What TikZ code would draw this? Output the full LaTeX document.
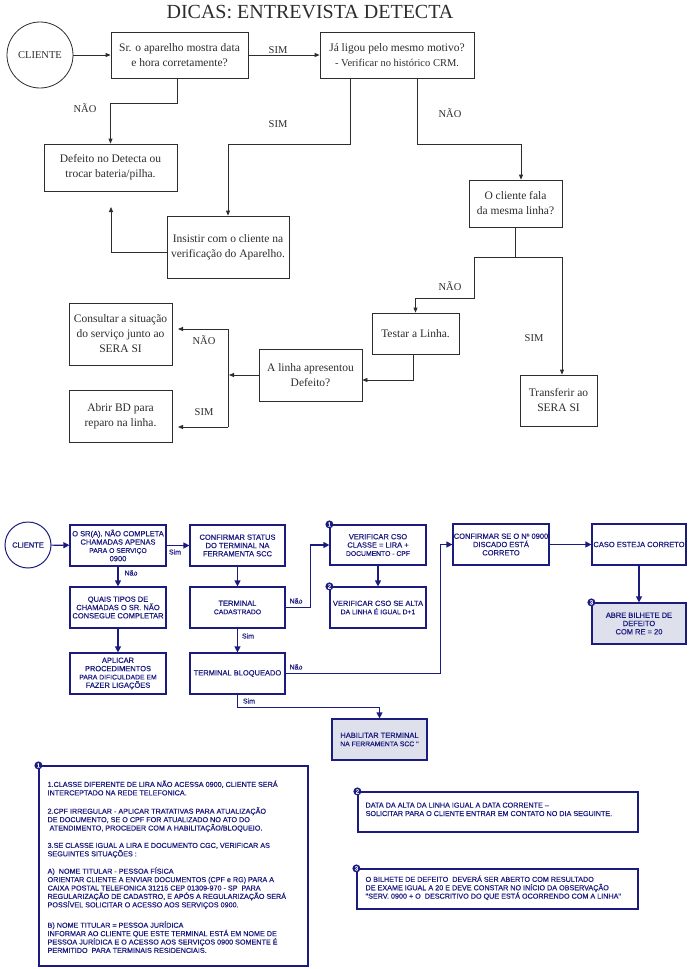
\documentclass[tikz,border=0pt]{standalone}
\usepackage{fontspec}
\setmainfont{Liberation Serif}
\newfontfamily\arialf[FakeBold=0.4]{Liberation Sans}
\usetikzlibrary{arrows.meta,calc}
\definecolor{navy}{RGB}{28,28,128}
\definecolor{shadefill}{RGB}{222,224,236}
\definecolor{ink}{RGB}{45,45,45}
\begin{document}
\begin{tikzpicture}[x=1pt,y=-1pt,
  tbox/.style={draw=ink,line width=0.8pt,fill=white,align=center,text=ink,font=\fontsize{11.5}{15}\selectfont,inner sep=0pt},
  tarr/.style={draw=ink,line width=0.8pt,-{Triangle[length=5pt,width=4pt]}},
  tline/.style={draw=ink,line width=0.8pt},
  tlab/.style={font=\fontsize{10.5}{12}\selectfont,text=ink,inner sep=0pt},
  bbox/.style={draw=navy,line width=1.2pt,fill=white,align=center,text=navy,font=\arialf\fontsize{7.5}{8.3}\selectfont,inner sep=0pt,minimum width=95pt,minimum height=41pt},
  sbox/.style={bbox,fill=shadefill},
  barr/.style={draw=navy,line width=1.2pt,-{Triangle[length=6pt,width=6pt]}},
  blab/.style={font=\arialf\fontsize{7}{7}\selectfont,text=navy,inner sep=0pt},
  badge/.style={circle,fill=navy,text=white,inner sep=0pt,minimum size=8pt,font=\arialf\fontsize{6}{6}\selectfont},
  note/.style={draw=navy,line width=1.2pt,inner sep=0pt},
  notetext/.style={align=left,text=navy,font=\arialf\fontsize{7.2}{8.4}\selectfont,inner sep=0pt,anchor=north west}
]
\useasboundingbox (0,0) rectangle (691,969);
\fill[white] (0,0) rectangle (691,969);

% ---------------- top section ----------------
\node[font=\fontsize{20}{24}\selectfont,text=ink,anchor=base,inner sep=0pt] (title) at (310,18) {DICAS: ENTREVISTA DETECTA};
\node[draw=ink,line width=0.8pt,circle,minimum size=66pt,font=\fontsize{10.5}{12}\selectfont,text=ink,inner sep=0pt] (c1) at (40,55) {CLIENTE};

\node[tbox,minimum width=137pt,minimum height=46pt] (b1) at (179.5,55) {Sr. o aparelho mostra data\\e hora corretamente?};
\node[tbox,minimum width=154pt,minimum height=46pt] (b2) at (397,55) {Já ligou pelo mesmo motivo?\\{\fontsize{10.5}{15}\selectfont - Verificar no histórico CRM.}};
\node[tbox,minimum width=133pt,minimum height=47pt] (b3) at (110.5,167.5) {Defeito no Detecta ou\\trocar bateria/pilha.};
\node[tbox,minimum width=122pt,minimum height=62pt] (b4) at (228,247) {Insistir com o cliente na\\verificação do Aparelho.};
\node[tbox,minimum width=93pt,minimum height=47pt] (b5) at (515.5,203.5) {O cliente fala\\da mesma linha?};
\node[tbox,minimum width=87pt,minimum height=41pt] (b6) at (415.5,333.5) {Testar a Linha.};
\node[tbox,minimum width=77pt,minimum height=51pt] (b7) at (558.5,400.5) {Transferir ao\\SERA SI};
\node[tbox,minimum width=103pt,minimum height=52pt] (b8) at (310.5,375) {A linha apresentou\\Defeito?};
\node[tbox,minimum width=103pt,minimum height=62pt] (b9) at (120.5,334) {Consultar a situação\\do serviço junto ao\\SERA SI};
\node[tbox,minimum width=103pt,minimum height=52pt] (b10) at (120.5,416) {Abrir BD para\\reparo na linha.};

\draw[tarr] (c1) -- (b1);
\draw[tarr] (b1) -- (b2);
\node[tlab] (l0) at (278,50) {SIM};

\draw[tarr] ($(b1.south)+(-2.5,0)$) -- ++(0,25) -| (b3.north);
\node[tlab] (l1) at (85,108) {NÃO};

\draw[tarr] ($(b2.south west)+(31,0)$) -- ++(0,66) -| (b4.north);
\node[tlab] (l2) at (278,124) {SIM};

\draw[tarr] ($(b2.south west)+(98,0)$) -- ++(0,66) -| ($(b5.north)+(5.5,0)$);
\node[tlab] (l3) at (450,113) {NÃO};

\coordinate (sp) at ($(b5.south)+(0,30)$);
\coordinate (spl) at (474,257);
\coordinate (spr) at (562,257);
\draw[tline] (b5.south) -- (sp);
\draw[tline] (spl) -- (spr);
\draw[tarr] (spl) -- ++(0,41) -| (b6.north);
\draw[tarr] (spr) -- ($(b7.north)+(3.5,0)$);
\node[tlab] (l4) at (450,286) {NÃO};
\node[tlab] (l5) at (534,338) {SIM};

\draw[tarr] ($(b6.south)+(-2.5,0)$) |- ($(b8.east)+(0,5)$);
\coordinate (jn) at (229,375);
\draw[tarr] (b8.west) -- (jn);
\coordinate (jt) at (228,329);
\coordinate (jb) at (228,427);
\coordinate (t9) at (178,329);
\coordinate (t10) at (178,427);
\draw[tline] (jt) -- (jb);
\draw[tarr] (jt) -- (t9);
\draw[tarr] (jb) -- (t10);
\node[tlab] (l6) at (204,340) {NÃO};
\node[tlab] (l7) at (204,412) {SIM};

\coordinate (up3) at (111,207);
\draw[tarr] ($(b4.west)+(0,5)$) -| (up3);

% ---------------- bottom section ----------------
\node[draw=navy,line width=1pt,circle,minimum size=46pt,inner sep=0pt,text=navy,font=\arialf\fontsize{7.5}{8}\selectfont] (c2) at (28,545) {CLIENTE};

\node[bbox,minimum width=96pt] (A) at (118,545.5) {O SR(A).  NÃO COMPLETA\\CHAMADAS APENAS\\{\fontsize{6.8}{8.3}\selectfont PARA O SERVIÇO}\\0900};
\node[bbox] (B) at (237.5,545.5) {CONFIRMAR STATUS\\DO TERMINAL NA\\FERRAMENTA SCC};
\node[bbox,minimum width=96pt] (C) at (118,607.5) {QUAIS TIPOS DE\\CHAMADAS O SR. NÃO\\CONSEGUE COMPLETAR};
\node[bbox,minimum width=96pt] (D) at (118,673.5) {APLICAR\\PROCEDIMENTOS\\{\fontsize{6.8}{8.3}\selectfont PARA DIFICULDADE EM}\\FAZER LIGAÇÕES};
\node[bbox] (E) at (237.5,607.5) {TERMINAL\\{\fontsize{6.8}{8.3}\selectfont CADASTRADO}};
\node[bbox] (F) at (237.5,673.5) {TERMINAL BLOQUEADO};
\node[sbox] (G) at (379.5,739.5) {HABILITAR TERMINAL\\{\fontsize{6.8}{8.3}\selectfont NA FERRAMENTA SCC ''}};
\node[bbox,minimum width=96pt,minimum height=40pt] (I) at (378,545) {VERIFICAR CSO\\CLASSE = LIRA +\\{\fontsize{6.8}{8.3}\selectfont DOCUMENTO - CPF}};
\node[bbox,minimum width=96pt] (J) at (378,607.5) {VERIFICAR CSO SE ALTA\\{\fontsize{6.8}{8.3}\selectfont DA LINHA É IGUAL D+1}};
\node[bbox,minimum width=96pt] (H) at (501,544.5) {CONFIRMAR SE O Nº 0900\\DISCADO ESTÁ\\CORRETO};
\node[bbox,minimum width=94pt] (K) at (639,544.5) {CASO ESTEJA CORRETO};
\node[sbox,minimum width=94pt] (L) at (639,623.5) {ABRE BILHETE DE\\DEFEITO\\COM RE = 20};

\node[badge] (bI) at (I.north west) {1};
\node[badge] (bJ) at (J.north west) {2};
\node[badge] (bL) at (L.north west) {3};

\draw[barr] (c2) -- (A);
\draw[barr] (A) -- (B);
\node[blab] (s1) at (175,552) {Sim};
\draw[barr] (A) -- (C);
\node[blab] (n1l) at (131,573) {Não};
\draw[barr] (C) -- (D);
\draw[barr] (B) -- (E);
\draw[barr] (E) -- (F);
\node[blab] (s2) at (248,636) {Sim};
\draw[barr] (F.south) -- ++(0,13) -| (G.north);
\node[blab] (s3) at (249,701) {Sim};
\draw[barr] (F.east) -- ++(155,0) |- (H.west);
\node[blab] (n2l) at (296,667) {Não};
\draw[barr] (E.east) -- ++(25,0) |- (I.west);
\node[blab] (n3l) at (296,601) {Não};
\draw[barr] (I) -- (J);
\draw[barr] (H) -- (K);
\draw[barr] (K) -- (L);

% ---------------- notes ----------------
\node[note,minimum width=269pt,minimum height=200pt] (N1) at (173.5,866) {};
\node[badge] (bN1) at (N1.north west) {1};
\node[notetext] (N1t) at ($(N1.north west)+(9,15)$) {1.CLASSE DIFERENTE DE LIRA NÃO ACESSA 0900, CLIENTE SERÁ\\
INTERCEPTADO NA REDE TELEFONICA.\\[10pt]
2.CPF IRREGULAR - APLICAR TRATATIVAS PARA ATUALIZAÇÃO\\
DE DOCUMENTO, SE O CPF FOR ATUALIZADO NO ATO DO\\
\ ATENDIMENTO, PROCEDER COM A HABILITAÇÃO/BLOQUEIO.\\[9pt]
3.SE CLASSE IGUAL A LIRA E DOCUMENTO CGC, VERIFICAR AS\\
SEGUINTES SITUAÇÕES :\\[9pt]
A)\ \ NOME TITULAR - PESSOA FÍSICA\\
ORIENTAR CLIENTE A ENVIAR DOCUMENTOS (CPF e RG) PARA A\\
CAIXA POSTAL TELEFONICA 31215 CEP 01309-970 - SP\ \ PARA\\
REGULARIZAÇÃO DE CADASTRO, E APÓS A REGULARIZAÇÃO SERÁ\\
POSSÍVEL SOLICITAR O ACESSO AOS SERVIÇOS 0900.\\[12pt]
B) NOME TITULAR = PESSOA JURÍDICA\\
INFORMAR AO CLIENTE QUE ESTE TERMINAL ESTÁ EM NOME DE\\
PESSOA JURÍDICA E O ACESSO AOS SERVIÇOS 0900 SOMENTE É\\
PERMITIDO\ \ PARA TERMINAIS RESIDENCIAIS.};

\node[note,minimum width=280pt,minimum height=40pt] (N2) at (498,812) {};
\node[badge] (bN2) at (N2.north west) {2};
\node[notetext] (N2t) at ($(N2.north west)+(8,11)$) {DATA DA ALTA DA LINHA IGUAL A DATA CORRENTE –\\
SOLICITAR PARA O CLIENTE ENTRAR EM CONTATO NO DIA SEGUINTE.};

\node[note,minimum width=281pt,minimum height=40pt] (N3) at (497.5,889) {};
\node[badge] (bN3) at (N3.north west) {3};
\node[notetext] (N3t) at ($(N3.north west)+(9,7)$) {O BILHETE DE DEFEITO\ \ DEVERÁ SER ABERTO COM RESULTADO\\
DE EXAME IGUAL A 20 E DEVE CONSTAR NO INÍCIO DA OBSERVAÇÃO\\
"SERV. 0900 + O\ \ DESCRITIVO DO QUE ESTÁ OCORRENDO COM A LINHA"};
\end{tikzpicture}
\end{document}
